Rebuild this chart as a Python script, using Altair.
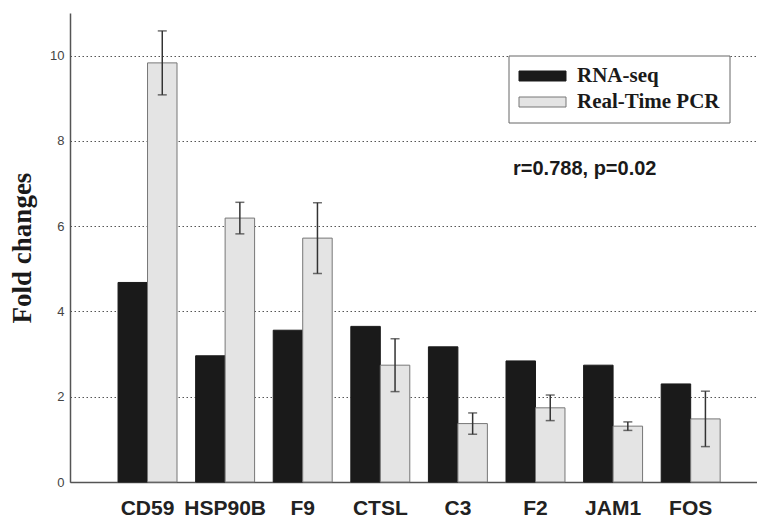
import altair as alt
import pandas as pd

genes = ["CD59", "HSP90B", "F9", "CTSL", "C3", "F2", "JAM1", "FOS"]
rnaseq = [4.68, 2.96, 3.56, 3.65, 3.17, 2.84, 2.74, 2.30]
pcr = [9.83, 6.19, 5.72, 2.74, 1.37, 1.74, 1.31, 1.48]
pcr_err = [0.75, 0.37, 0.83, 0.62, 0.25, 0.30, 0.10, 0.65]
series = ["RNA-seq", "Real-Time PCR"]

rows = []
for g, a, b in zip(genes, rnaseq, pcr):
    rows.append({"gene": g, "series": series[0], "value": a})
    rows.append({"gene": g, "series": series[1], "value": b})
bars_df = pd.DataFrame(rows)
err_df = pd.DataFrame({
    "gene": genes,
    "series": [series[1]] * len(genes),
    "lo": [v - e for v, e in zip(pcr, pcr_err)],
    "hi": [v + e for v, e in zip(pcr, pcr_err)],
})

SANS = "Liberation Sans"
SERIF = "Liberation Serif"

xenc = alt.X("gene:N", sort=genes, title=None,
             scale=alt.Scale(paddingInner=0.24, paddingOuter=0.547, align=0.566),
             axis=alt.Axis(labelAngle=0, labelFont=SANS, labelFontSize=21,
                           labelFontWeight="bold", labelColor="#222",
                           labelPadding=15, ticks=False, domainColor="#555",
                           domainWidth=1.5, grid=False))
xoff = alt.XOffset("series:N", sort=series,
                   scale=alt.Scale(paddingInner=0, paddingOuter=0))
yscale = alt.Scale(domain=[0, 11], nice=False)

legend_shape = "M-2.35,-0.5L2.35,-0.5L2.35,0.5L-2.35,0.5Z"
legend_cfg = dict(title=None, orient="none", legendX=438.5, legendY=42.5,
                  symbolType=legend_shape, symbolSize=400, symbolOffset=13.5,
                  symbolStrokeWidth=1, labelFont=SERIF, labelFontSize=21,
                  labelFontWeight="bold", labelColor="#1a1a1a",
                  labelOffset=24, rowPadding=4, padding=10,
                  strokeColor="#666", fillColor="white", labelLimit=300)

bars = alt.Chart(bars_df).mark_bar(strokeWidth=1).encode(
    x=xenc,
    xOffset=xoff,
    y=alt.Y("value:Q", scale=yscale, title="Fold changes",
            axis=alt.Axis(values=[0, 2, 4, 6, 8, 10], ticks=False,
                          labelFont=SANS, labelFontSize=13, labelColor="#444",
                          labelPadding=6, domainColor="#555", domainWidth=1.5,
                          grid=True, gridDash=[1.5, 2.5], gridColor="#555",
                          gridWidth=1, titleFont=SERIF, titleFontSize=27,
                          titleFontWeight="bold", titleColor="#1a1a1a",
                          titlePadding=13)),
    color=alt.Color("series:N", sort=series,
                    scale=alt.Scale(domain=series, range=["#1a1a1a", "#e4e4e4"]),
                    legend=alt.Legend(**legend_cfg)),
    stroke=alt.Stroke("series:N", sort=series,
                      scale=alt.Scale(domain=series, range=["#1a1a1a", "#777777"]),
                      legend=alt.Legend(**legend_cfg)),
)

rules = alt.Chart(err_df).mark_rule(color="#333", strokeWidth=1.5).encode(
    x=alt.X("gene:N", sort=genes),
    xOffset=alt.XOffset("series:N", sort=series),
    y=alt.Y("lo:Q", scale=yscale),
    y2="hi:Q",
)
caps_hi = alt.Chart(err_df).mark_tick(color="#333", size=9, thickness=1.5,
                                      orient="horizontal").encode(
    x=alt.X("gene:N", sort=genes),
    xOffset=alt.XOffset("series:N", sort=series),
    y=alt.Y("hi:Q", scale=yscale),
)
caps_lo = alt.Chart(err_df).mark_tick(color="#333", size=9, thickness=1.5,
                                      orient="horizontal").encode(
    x=alt.X("gene:N", sort=genes),
    xOffset=alt.XOffset("series:N", sort=series),
    y=alt.Y("lo:Q", scale=yscale),
)

annot = alt.Chart(pd.DataFrame({"t": ["r=0.788, p=0.02"]})).mark_text(
    font=SANS, fontSize=20, fontWeight="bold", color="#1a1a1a",
    align="left", baseline="middle",
).encode(text="t:N", x=alt.value(443), y=alt.value(156))

chart = alt.layer(bars, rules, caps_hi, caps_lo, annot).properties(
    width=687, height=469,
    autosize=alt.AutoSizeParams(type="none"),
    padding={"left": 70, "top": 13, "right": 0, "bottom": 41},
    background="white",
).configure_view(stroke=None)

chart.save("out.html", embed_options={"renderer": "svg", "actions": False})
